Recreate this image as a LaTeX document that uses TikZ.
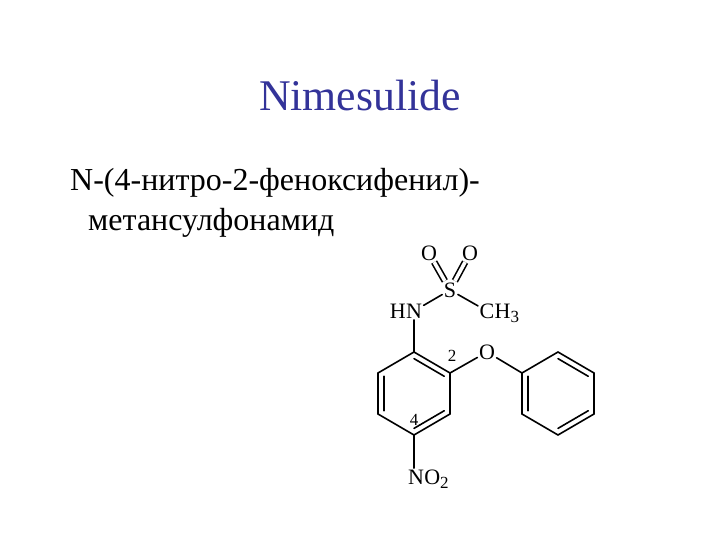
\documentclass[tikz,border=0pt]{standalone}
\usepackage{fontspec}
\setmainfont{Liberation Serif}
\usetikzlibrary{calc,positioning}
\definecolor{titleblue}{RGB}{51,51,153}
\newcommand{\atomsub}[1]{\raisebox{-4.5pt}{\fontsize{17}{18}\selectfont #1}}
\tikzset{
  bond/.style={line width=1.6pt,line cap=round},
  sbond/.style={line width=1.6pt,double,double distance=3.6pt},
  atom/.style={inner sep=1.5pt,font=\fontsize{22}{24}\selectfont},
  atomtail/.style={inner sep=0pt,font=\fontsize{22}{24}\selectfont},
  locant/.style={inner sep=0pt,font=\fontsize{17}{18}\selectfont},
  bodyline/.style={anchor=base west,inner sep=0pt,font=\fontsize{32}{36}\selectfont}
}
\begin{document}
\begin{tikzpicture}[x=1pt,y=-1pt]
  \useasboundingbox (0,0) rectangle (720,540);
  \node[inner sep=0pt,text=titleblue,font=\fontsize{43.8}{48}\selectfont] (title) at (360,96) {Nimesulide};
  \node[bodyline] (name1) at (70,191) {N-(4-нитро-2-феноксифенил)-};
  \node[bodyline] (name2) at (88,230) {метансулфонамид};
  % ring with the NH and the NO2
  \foreach \n/\x/\y in {a1/414/352,a2/450/373,a3/450/414,a4/414/435,a5/378/414,a6/378/373,ca/414/393.5}
    \coordinate (\n) at (\x,\y);
  % phenyl
  \foreach \n/\x/\y in {b1/522/373,b2/522/414,b3/558/435,b4/594/414,b5/594/373,b6/558/352,cb/558/393.5}
    \coordinate (\n) at (\x,\y);
  \draw[bond] (a1)--(a2)--(a3)--(a4)--(a5)--(a6)--cycle;
  \draw[bond] (b1)--(b2)--(b3)--(b4)--(b5)--(b6)--cycle;
  \foreach \p/\q/\c in {a1/a2/ca,a3/a4/ca,a5/a6/ca,b1/b2/cb,b3/b4/cb,b5/b6/cb}
    \draw[bond] ($(\p)!.16!(\c)$) -- ($(\q)!.16!(\c)$);
  % atoms
  \node[atom] (o1) at (429,253) {O};
  \node[atom] (o2) at (470,253) {O};
  \node[atom] (s) at (450,290) {S};
  \node[atom] (n) at (414,311) {N};
  \node[atomtail,base left=-1.5pt of n.base west] (h) {H};
  \node[atom] (c) at (487,311) {C};
  \node[atomtail,base right=-1.5pt of c.base east] (h3) {H\atomsub{3}};
  \node[atom] (o3) at (487,352) {O};
  \node[atom] (n2) at (416,477) {N};
  \node[atomtail,base right=-1.5pt of n2.base east] (o4) {O\atomsub{2}};
  \node[locant] (two) at (452,356) {2};
  \node[locant] (four) at (414,420) {4};
  % bonds to the atoms
  \draw[sbond] (o1) -- (s);
  \draw[sbond] (o2) -- (s);
  \draw[bond] (s) -- (n);
  \draw[bond] (s) -- (c);
  \draw[bond] (n) -- (a1);
  \draw[bond] (a2) -- (o3);
  \draw[bond] (o3) -- (b1);
  \draw[bond] (a4) -- (n2.north -| a4);
\end{tikzpicture}
\end{document}
